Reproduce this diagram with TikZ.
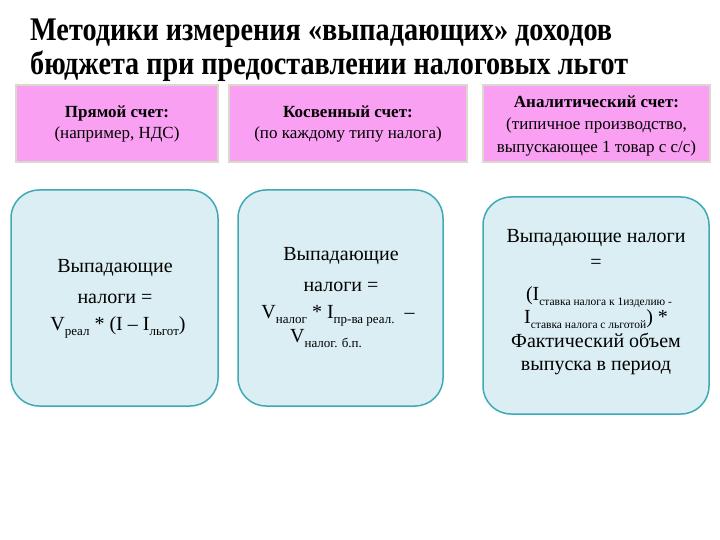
\documentclass[tikz,border=0pt]{standalone}
\usepackage{fontspec}
\setmainfont{Liberation Serif}
\usepackage{graphicx}
\definecolor{pinkfill}{RGB}{250,160,242}
\definecolor{pinkedge}{RGB}{221,216,204}
\definecolor{bluefill}{RGB}{218,238,243}
\definecolor{blueedge}{RGB}{62,170,182}
\newcommand{\lo}[2][13]{\raisebox{-5pt}{\fontsize{#1}{#1}\selectfont #2}}
\tikzset{
  pinkbox/.style={draw=pinkedge, line width=2.5pt, fill=pinkfill, inner sep=0pt},
  bluebox/.style={draw=blueedge, line width=1.5pt, fill=bluefill, rounded corners=28pt, inner sep=0pt},
  ptext/.style={anchor=base, inner sep=0pt, font=\fontsize{17}{17}\selectfont},
  btext/.style={anchor=base, inner sep=0pt, font=\fontsize{20}{20}\selectfont},
  ttext/.style={anchor=base west, inner sep=0pt}
}
\begin{document}
\begin{tikzpicture}[x=1pt,y=-1pt]
\useasboundingbox (0,0) rectangle (720,540);
% title
\node[ttext] (title1) at (30,41) {\resizebox{582pt}{\height}{\fontsize{33}{33}\selectfont\bfseries Методики измерения «выпадающих» доходов}};
\node[ttext] (title2) at (30,75) {\resizebox{598pt}{\height}{\fontsize{33}{33}\selectfont\bfseries бюджета при предоставлении налоговых льгот}};
% pink boxes
\node[pinkbox, minimum width=202pt, minimum height=77pt] (p1) at (117,123.5) {};
\node[pinkbox, minimum width=238pt, minimum height=77pt] (p2) at (348,123.5) {};
\node[pinkbox, minimum width=227pt, minimum height=77pt] (p3) at (596.5,123.5) {};
\node[ptext] (p1a) at (117,118) {\textbf{Прямой счет:}};
\node[ptext] (p1b) at (117,139) {(например, НДС)};
\node[ptext] (p2a) at (348,118) {\textbf{Косвенный счет:}};
\node[ptext] (p2b) at (348,139) {(по каждому типу налога)};
\node[ptext] (p3a) at (596.5,108) {\textbf{Аналитический счет:}};
\node[ptext] (p3b) at (596.5,130) {(типичное производство,};
\node[ptext] (p3c) at (596.5,153) {выпускающее 1 товар с с/с)};
% blue boxes
\node[bluebox, minimum width=207pt, minimum height=216pt] (b1) at (114.5,298) {};
\node[bluebox, minimum width=205pt, minimum height=216pt] (b2) at (340.5,298) {};
\node[bluebox, minimum width=226pt, minimum height=217pt] (b3) at (596,305.5) {};
% box 1 text
\node[btext] (b1a) at (115,272) {Выпадающие};
\node[btext] (b1b) at (115,303) {налоги =};
\node[btext] (b1c) at (118,330) {V\lo{реал} * (I – I\lo{льгот})};
% box 2 text
\node[btext] (b2a) at (341,260) {Выпадающие};
\node[btext] (b2b) at (341,291) {налоги =};
\node[btext] (b2c) at (338,318) {V\lo{налог} * I\lo{пр-ва реал.}\ \ –};
\node[btext] (b2d) at (326,342) {V\lo{налог. б.п.}};
% box 3 text
\node[btext] (b3a) at (596,242) {Выпадающие налоги};
\node[btext] (b3b) at (596,268) {=};
\node[btext] (b3c) at (599,300) {(I\lo[11.5]{ставка налога к 1изделию -}};
\node[btext] (b3d) at (596,323) {I\lo[11.5]{ставка налога с льготой}) *};
\node[btext] (b3e) at (596,347) {Фактический объем};
\node[btext] (b3f) at (596,370) {выпуска в период};
\end{tikzpicture}
\end{document}
